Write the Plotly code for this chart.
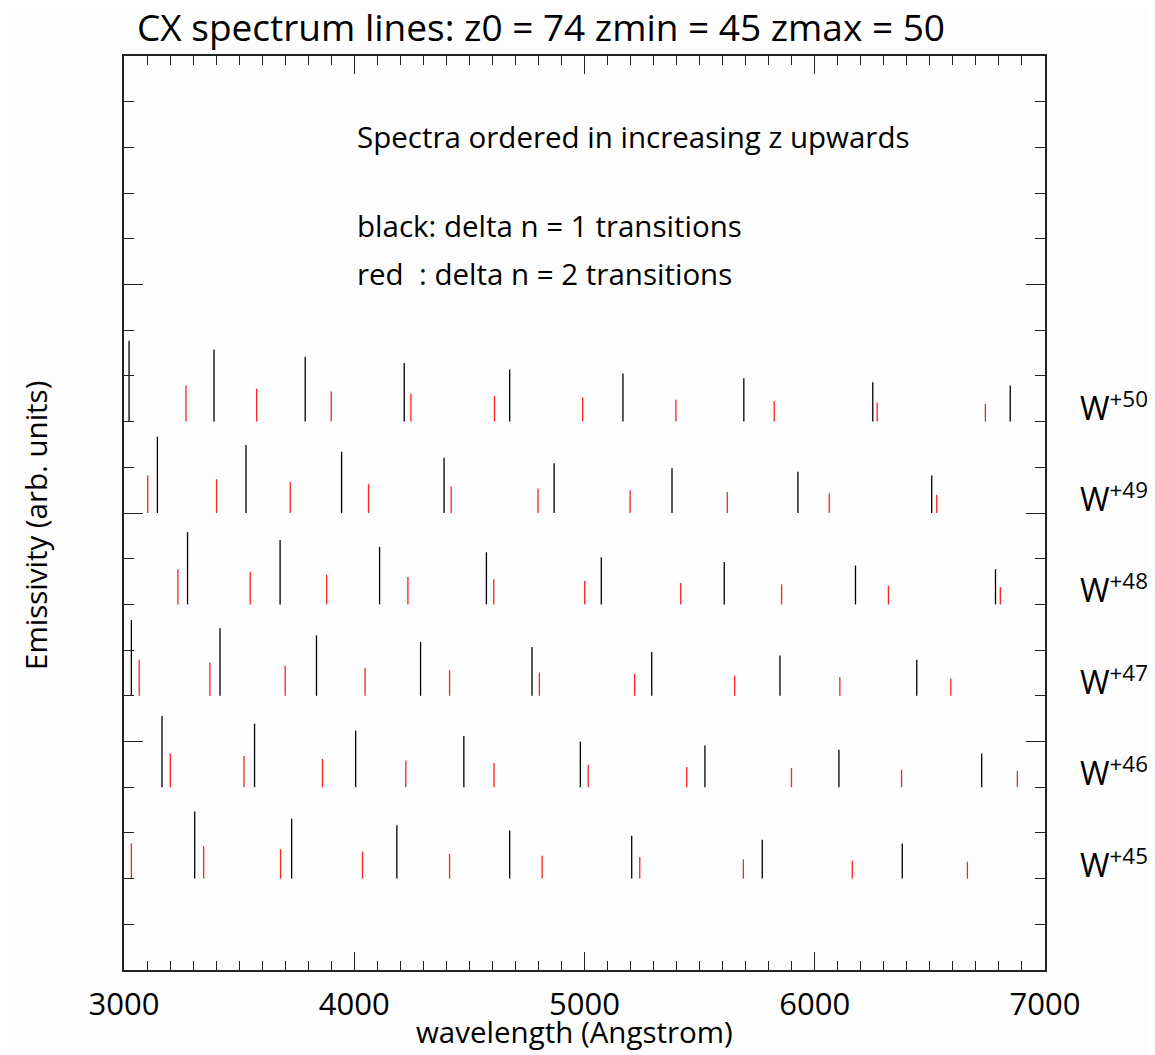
import plotly.graph_objects as go

# ---------------- data ----------------
ion_charges = [45, 46, 47, 48, 49, 50]

# delta n = 1 (black) wavelengths [Angstrom] and emissivities (arb. units)
wl_dn1_w45 = [3307, 3728, 4185, 4675, 5205, 5772, 6380]
em_dn1_w45 = [1.47, 1.31, 1.17, 1.05, 0.94, 0.85, 0.77]
wl_dn1_w46 = [3165, 3567, 4006, 4476, 4982, 5523, 6105, 6725]
em_dn1_w46 = [1.56, 1.39, 1.24, 1.12, 1.00, 0.91, 0.82, 0.74]
wl_dn1_w47 = [3032, 3417, 3836, 4288, 4772, 5292, 5849, 6443]
em_dn1_w47 = [1.66, 1.48, 1.32, 1.18, 1.07, 0.96, 0.88, 0.79]
wl_dn1_w48 = [3276, 3678, 4110, 4574, 5073, 5607, 6177, 6785]
em_dn1_w48 = [1.58, 1.41, 1.26, 1.14, 1.03, 0.93, 0.85, 0.77]
wl_dn1_w49 = [3145, 3530, 3945, 4390, 4868, 5380, 5927, 6508]
em_dn1_w49 = [1.67, 1.49, 1.34, 1.21, 1.09, 0.98, 0.90, 0.82]
wl_dn1_w50 = [3022, 3391, 3787, 4217, 4675, 5167, 5692, 6252, 6849]
em_dn1_w50 = [1.77, 1.58, 1.42, 1.28, 1.14, 1.05, 0.95, 0.86, 0.79]

# delta n = 2 (red)
wl_dn2_w45 = [3032, 3346, 3680, 4036, 4414, 4816, 5240, 5690, 6163, 6663]
em_dn2_w45 = [0.77, 0.71, 0.64, 0.59, 0.54, 0.50, 0.47, 0.42, 0.39, 0.37]
wl_dn2_w46 = [3201, 3521, 3862, 4224, 4607, 5016, 5444, 5899, 6377, 6880]
em_dn2_w46 = [0.74, 0.68, 0.62, 0.58, 0.53, 0.49, 0.44, 0.42, 0.38, 0.36]
wl_dn2_w47 = [3066, 3373, 3700, 4047, 4414, 4804, 5218, 5652, 6109, 6591]
em_dn2_w47 = [0.79, 0.73, 0.66, 0.61, 0.56, 0.51, 0.48, 0.44, 0.41, 0.38]
wl_dn2_w48 = [3234, 3548, 3880, 4233, 4606, 5001, 5418, 5856, 6320, 6806]
em_dn2_w48 = [0.77, 0.71, 0.65, 0.60, 0.55, 0.51, 0.47, 0.44, 0.41, 0.38]
wl_dn2_w49 = [3103, 3402, 3722, 4062, 4421, 4798, 5198, 5620, 6063, 6530]
em_dn2_w49 = [0.82, 0.74, 0.68, 0.63, 0.58, 0.53, 0.50, 0.46, 0.43, 0.40]
wl_dn2_w50 = [3269, 3576, 3900, 4246, 4609, 4992, 5397, 5824, 6271, 6741]
em_dn2_w50 = [0.79, 0.72, 0.66, 0.61, 0.56, 0.53, 0.48, 0.45, 0.42, 0.39]

x_tick_values = [3000, 4000, 5000, 6000, 7000]
x_tick_labels = ["3000", "4000", "5000", "6000", "7000"]

dn1_sets = [(wl_dn1_w45, em_dn1_w45), (wl_dn1_w46, em_dn1_w46), (wl_dn1_w47, em_dn1_w47),
            (wl_dn1_w48, em_dn1_w48), (wl_dn1_w49, em_dn1_w49), (wl_dn1_w50, em_dn1_w50)]
dn2_sets = [(wl_dn2_w45, em_dn2_w45), (wl_dn2_w46, em_dn2_w46), (wl_dn2_w47, em_dn2_w47),
            (wl_dn2_w48, em_dn2_w48), (wl_dn2_w49, em_dn2_w49), (wl_dn2_w50, em_dn2_w50)]

OFFSET = 2.0  # vertical spacing between stacked spectra


def sticks(sets):
    xs, ys = [], []
    for i, (wl, em) in enumerate(sets):
        base = OFFSET * (i + 1)
        for w, e in zip(wl, em):
            xs += [w, w, None]
            ys += [base, base + e, None]
    return xs, ys


FONT = "Open Sans"
AX = "#222222"

fig = go.Figure()
bx, by = sticks(dn1_sets)
rx, ry = sticks(dn2_sets)
fig.add_trace(go.Scatter(x=rx, y=ry, mode="lines", line=dict(color="#ff2020", width=1.3),
                         hoverinfo="skip", showlegend=False))
fig.add_trace(go.Scatter(x=bx, y=by, mode="lines", line=dict(color="black", width=1.3),
                         hoverinfo="skip", showlegend=False))

# target plot-area edges in window pixels; page body has an 8px margin
PAGE_OFF = 8
W, H = 1155, 1055
L, R, T, B = 124, 1045, 56, 970
PW, PH = R - L, B - T


def px(xp):
    return (xp - L) / PW


def py(yp):
    return (B - yp) / PH


annotations = [
    dict(text="CX spectrum lines: z0 = 74 zmin = 45 zmax = 50", x=px(135), y=py(26),
         xanchor="left", yanchor="middle", font=dict(size=37)),
    dict(text="Spectra ordered in increasing z upwards", x=px(355), y=py(136),
         xanchor="left", yanchor="middle", font=dict(size=29.5)),
    dict(text="black: delta n = 1 transitions", x=px(355), y=py(226),
         xanchor="left", yanchor="middle", font=dict(size=29.5)),
    dict(text="red\u00a0 : delta n = 2 transitions", x=px(355), y=py(274),
         xanchor="left", yanchor="middle", font=dict(size=29.5)),
    dict(text="wavelength (Angstrom)", x=px(574), y=py(1031),
         xanchor="center", yanchor="middle", font=dict(size=29.5)),
    dict(text="Emissivity (arb. units)", x=px(35), y=py(526), textangle=-90,
         xanchor="center", yanchor="middle", font=dict(size=29.5)),
]
for i, z in enumerate(ion_charges):
    annotations.append(dict(text=f"W<sup>+{z}</sup>", x=px(1078), xref="paper",
                            y=OFFSET * (i + 1) + 0.35, yref="y",
                            xanchor="left", yanchor="middle", font=dict(size=32)))
for a in annotations:
    a.setdefault("xref", "paper")
    a.setdefault("yref", "paper")
    a["showarrow"] = False
    a["font"].update(family=FONT, color="black")

fig.update_layout(
    width=W - PAGE_OFF, height=H - PAGE_OFF, autosize=False,
    margin=dict(l=L - PAGE_OFF, r=W - R, t=T - PAGE_OFF, b=H - B, pad=0),
    paper_bgcolor="#fdfdfd", plot_bgcolor="#fdfdfd",
    font=dict(family=FONT, color="black"),
    annotations=annotations,
    xaxis=dict(range=[3000, 7000], tickmode="array", tickvals=x_tick_values, ticktext=x_tick_labels,
               ticks="inside", ticklen=18, tickwidth=1.2, tickcolor=AX,
               showline=True, linecolor=AX, linewidth=1.5, mirror="ticks",
               showgrid=False, zeroline=False, ticklabelstandoff=6,
               tickfont=dict(size=31, family=FONT, color="black"),
               minor=dict(dtick=100, tick0=3000, ticks="inside", ticklen=9, tickwidth=1.2,
                          tickcolor=AX, showgrid=False)),
    yaxis=dict(range=[0, 20], tickmode="linear", tick0=0, dtick=5,
               ticks="inside", ticklen=19, tickwidth=1.2, tickcolor=AX,
               showline=True, linecolor=AX, linewidth=1.5, mirror="ticks",
               showgrid=False, zeroline=False, showticklabels=False,
               minor=dict(dtick=1, tick0=0, ticks="inside", ticklen=10, tickwidth=1.2,
                          tickcolor=AX, showgrid=False)),
)

fig.write_html("out.html")
